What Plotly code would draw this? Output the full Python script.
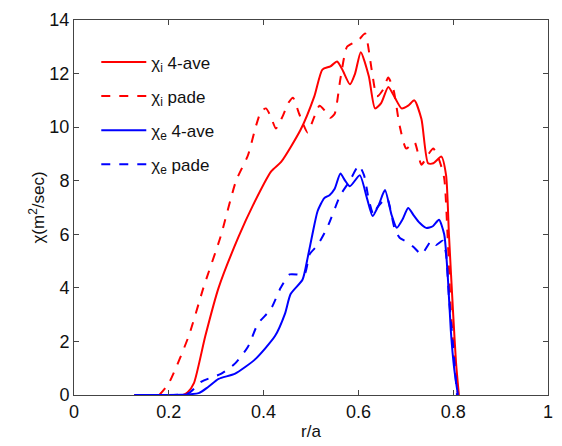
import plotly.graph_objects as go

# chi_i, 4-point average
ri_ave = [0.127, 0.23, 0.24, 0.253, 0.277, 0.305, 0.347, 0.378, 0.416, 0.437, 0.478, 0.507,
          0.524, 0.541, 0.555, 0.566, 0.582, 0.593, 0.605, 0.622, 0.635, 0.648, 0.663, 0.677,
          0.691, 0.705, 0.718, 0.733, 0.747, 0.758, 0.775, 0.785, 0.791, 0.80, 0.806, 0.812]
chii_ave = [0, 0, 0.1, 0.44, 2.2, 4.0, 5.9, 7.1, 8.35, 8.7, 9.9, 11.15,
            12.15, 12.27, 12.45, 12.15, 11.6, 12.0, 12.8, 11.9, 10.7, 10.9, 11.5, 11.1,
            10.7, 10.8, 11.0, 10.3, 8.65, 8.65, 8.9, 8.2, 6.0, 3.0, 1.2, 0]

# chi_i, pade
ri_pade = [0.18, 0.20, 0.242, 0.273, 0.309, 0.342, 0.367, 0.384, 0.395, 0.405, 0.415, 0.426,
           0.440, 0.452, 0.462, 0.475, 0.493, 0.505, 0.518, 0.530, 0.541, 0.550, 0.562, 0.576,
           0.59, 0.603, 0.614, 0.628, 0.639, 0.652, 0.663, 0.674, 0.687, 0.701, 0.718, 0.733,
           0.748, 0.758, 0.770, 0.781, 0.788, 0.795, 0.803, 0.810]
chii_pade = [0, 0.44, 2.2, 4.0, 5.9, 8.0, 8.95, 10.05, 10.6, 10.7, 10.4, 9.95,
             10.4, 10.9, 11.1, 10.5, 9.8, 10.3, 10.8, 10.6, 10.35, 10.5, 11.8, 13.0,
             13.15, 13.3, 13.5, 12.15, 11.15, 11.4, 11.85, 11.4, 10.05, 9.2, 9.45, 8.6,
             9.0, 9.2, 8.8, 8.1, 6.0, 3.2, 1.2, 0]

# chi_e, 4-point average
re_ave = [0.127, 0.263, 0.283, 0.305, 0.340, 0.382, 0.424, 0.445, 0.457, 0.482, 0.493, 0.503,
          0.514, 0.528, 0.539, 0.550, 0.562, 0.572, 0.582, 0.603, 0.618, 0.630, 0.643, 0.656,
          0.670, 0.681, 0.693, 0.705, 0.717, 0.729, 0.743, 0.757, 0.77, 0.781, 0.789, 0.795,
          0.802, 0.81]
chie_ave = [0, 0.07, 0.3, 0.6, 0.8, 1.33, 2.2, 3.03, 3.77, 4.3, 5.13, 6.0,
            6.87, 7.35, 7.46, 7.7, 8.27, 8.0, 7.79, 8.2, 7.35, 6.68, 7.1, 7.65,
            6.72, 6.24, 6.55, 6.98, 6.7, 6.43, 6.24, 6.3, 6.54, 6.0, 4.3, 2.4,
            1.0, 0]

# chi_e, pade
re_pade = [0.20, 0.242, 0.269, 0.311, 0.340, 0.367, 0.388, 0.415, 0.436, 0.455, 0.486, 0.497,
           0.514, 0.534, 0.562, 0.582, 0.601, 0.612, 0.622, 0.632, 0.639, 0.66, 0.676, 0.687,
           0.705, 0.718, 0.733, 0.754, 0.764, 0.778, 0.785, 0.791, 0.80, 0.808]
chie_pade = [0, 0.07, 0.5, 0.8, 1.18, 1.8, 2.66, 3.2, 4.0, 4.5, 4.5, 5.25,
             5.6, 6.24, 7.46, 8.0, 8.57, 8.2, 7.28, 6.72, 6.98, 7.35, 6.24, 5.87,
             5.69, 5.5, 5.25, 5.76, 5.6, 5.76, 5.25, 3.65, 1.8, 0]

x_ticks = [0, 0.2, 0.4, 0.6, 0.8, 1]
x_labels = ["0", "0.2", "0.4", "0.6", "0.8", "1"]
y_ticks = [0, 2, 4, 6, 8, 10, 12, 14]

fig = go.Figure()

series = [
    (ri_ave, chii_ave, "χ<sub>i</sub> 4-ave", "#ff0000", "solid"),
    (ri_pade, chii_pade, "χ<sub>i</sub> pade", "#ff0000", "dash"),
    (re_ave, chie_ave, "χ<sub>e</sub> 4-ave", "#0000ff", "solid"),
    (re_pade, chie_pade, "χ<sub>e</sub> pade", "#0000ff", "dash"),
]
for i, (x, y, name, color, dash) in enumerate(series):
    fig.add_trace(go.Scatter(
        x=x, y=y, name=name, mode="lines", legendgroup=str(i),
        line=dict(color=color, width=2, dash=dash, shape="spline", smoothing=0.6),
    ))

axis_style = dict(
    showgrid=False, zeroline=False, showline=True, mirror="ticks",
    linecolor="#444444", linewidth=1, ticks="inside", ticklen=5,
    tickcolor="#444444", tickfont=dict(size=18, color="#111111"),
)

fig.update_layout(
    width=562, height=446,
    margin=dict(l=74, r=9, t=20, b=47),
    paper_bgcolor="white", plot_bgcolor="white",
    font=dict(family="Arial, Liberation Sans, sans-serif", color="#111111"),
    showlegend=True,
    legend=dict(x=0.047, y=0.935, xanchor="left", yanchor="top",
                bgcolor="rgba(0,0,0,0)", font=dict(size=17),
                tracegroupgap=9, itemwidth=45),
)
fig.update_xaxes(range=[0, 1], tickvals=x_ticks, ticktext=x_labels,
                 title=dict(text="r/a", font=dict(size=17), standoff=4), **axis_style)
fig.update_yaxes(range=[0, 14], tickvals=y_ticks,
                 title=dict(text="χ(m<sup>2</sup>/sec)", font=dict(size=17), standoff=0),
                 **axis_style)

# drop the default page margin / scrollbars so the figure sits at the window origin
fig.write_html(
    "out.html",
    config={"displayModeBar": False},
    post_script="document.body.style.margin='0';"
                "document.body.style.overflow='hidden';"
                "document.documentElement.style.overflow='hidden';",
)
